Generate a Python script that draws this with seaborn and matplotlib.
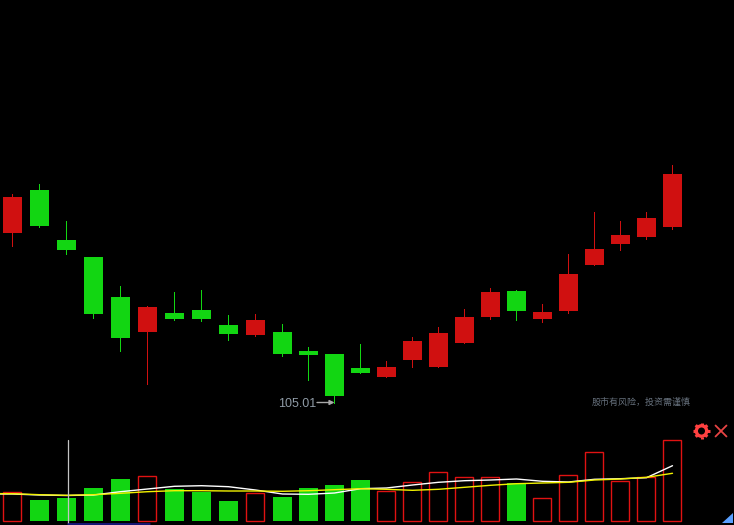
import numpy as np
import pandas as pd
import matplotlib
matplotlib.use('Agg')
import matplotlib.pyplot as plt
import seaborn as sns

# candles, oldest first
opens = [113.49, 115.64, 113.14, 112.29, 110.29, 108.54, 109.49, 109.64, 108.89, 108.39, 108.54, 107.59, 107.44,
         106.74, 106.29, 107.14, 106.79, 107.99, 109.29, 110.59, 109.19, 109.59, 111.89, 112.94, 113.29, 113.79]
closes = [115.29, 113.84, 112.64, 109.44, 108.24, 109.79, 109.19, 109.19, 108.44, 109.14, 107.44, 107.39, 105.34,
          106.49, 106.79, 108.09, 108.49, 109.29, 110.54, 109.59, 109.54, 111.44, 112.69, 113.39, 114.24, 116.44]
highs = [115.44, 115.94, 114.09, 112.29, 110.84, 109.84, 110.54, 110.64, 109.39, 109.44, 108.94, 107.79, 107.44,
         107.94, 107.09, 108.29, 108.79, 109.69, 110.74, 110.64, 109.94, 112.44, 114.54, 114.09, 114.54, 116.89]
lows = [112.85, 113.80, 112.44, 109.25, 107.58, 105.94, 109.14, 109.08, 108.14, 108.34, 107.34, 106.14, 105.01,
        106.49, 106.29, 106.79, 106.79, 107.99, 109.19, 109.14, 109.04, 109.49, 111.89, 112.64, 113.19, 113.69]
volumes = [290, 210, 230, 330, 420, 450, 320, 290, 200, 280, 240, 330, 360,
           410, 300, 387, 487, 437, 437, 377, 227, 457, 687, 397, 437, 807]
# averages start one session before the first candle
ma5 = [270, 270, 260, 255, 260, 293, 320, 347, 353, 343, 310, 270, 267, 280,
       323, 330, 360, 387, 403, 410, 420, 397, 390, 417, 423, 433, 553]
ma10 = [275, 273, 263, 257, 263, 277, 293, 303, 303, 300, 300, 297, 303, 313,
        323, 317, 307, 317, 337, 357, 373, 380, 387, 410, 420, 437, 477]
low_label = '105.01'
risk_note = '股市有风险\uff0c投资需谨慎'

RED = '#d01010'
GREEN = '#12d612'

def slot_x(i):
    # the app snaps candles to whole pixels: 27px steps first, 26px after slot 10
    i = np.asarray(i)
    return np.where(i <= 10, 12.5 + 27 * i, 282.5 + 26 * (i - 10))

sns.set_theme(style='dark', rc={'figure.facecolor': 'black', 'axes.facecolor': 'black'})
plt.rcParams['font.family'] = ['Liberation Sans', 'Noto Sans CJK SC', 'DejaVu Sans']

W, H = 734, 525
fig = plt.figure(figsize=(W / 100, H / 100), dpi=100)
ax_price = fig.add_axes([0, (H - 425) / H, 1, 425 / H])
ax_vol = fig.add_axes([0, (H - 523) / H, 1, 93 / H])
overlay = fig.add_axes([0, 0, 1, 1])
overlay.patch.set_alpha(0)

df = pd.DataFrame({'open': opens, 'close': closes, 'high': highs, 'low': lows, 'volume': volumes})
df['x'] = slot_x(np.arange(len(df)))
df['up'] = df['close'] > df['open']
df['color'] = df['up'].map({True: RED, False: GREEN})
# half pixel nudge so thin strokes land on the same column as the reference
df['x_thin'] = df['x'] - 0.6

# candles
ax_price.vlines(df['x_thin'], df['low'], df['high'], colors=df['color'], linewidth=0.72, antialiased=False)
ax_price.bar(df['x'], (df['close'] - df['open']).abs(), bottom=df[['open', 'close']].min(axis=1),
             width=19, color=df['color'], linewidth=0, antialiased=False)
ax_price.set_xlim(0, W)
ax_price.set_ylim(103.885, 125.135)

# volume: solid for down days, hollow for up days
sns.barplot(data=df[~df['up']], x='x', y='volume', native_scale=True, width=19 / 26,
            color=GREEN, saturation=1, linewidth=0, ax=ax_vol)
sns.barplot(data=df[df['up']], x='x_thin', y='volume', native_scale=True, width=18 / 26,
            color='#e01212', saturation=1, fill=False, linewidth=1.0, ax=ax_vol)

ma_x = slot_x(np.arange(-1, len(df)))
sns.lineplot(x=ma_x, y=ma5, color='white', linewidth=1.0, ax=ax_vol)
sns.lineplot(x=ma_x, y=ma10, color='#f2f200', linewidth=1.0, ax=ax_vol)
ax_vol.set_xlim(0, W)
ax_vol.set_ylim(-20, 910)

for ax in (ax_price, ax_vol, overlay):
    ax.axis('off')

# low marker
low_i = int(np.argmin(lows))
ax_price.annotate('', xy=(df['x'][low_i], lows[low_i]), xytext=(317, lows[low_i]),
                  arrowprops=dict(arrowstyle='-|>', color='#a8a8a8', lw=1, mutation_scale=7,
                                  shrinkA=0, shrinkB=0))
overlay.set_xlim(0, W)
overlay.set_ylim(H, 0)
overlay.text(316, 404, low_label, color='#8f9ba6', fontsize=9, ha='right', va='center')
overlay.text(691, 402, risk_note, color='#66707c', fontsize=6.5, ha='right', va='center',
             family=['Noto Sans CJK SC', 'DejaVu Sans'])

# crosshair and the widgets in the corner
overlay.plot([68, 68], [440, 523], color='#c4c4c4', linewidth=0.9)
overlay.plot([68, 150], [523.5, 523.5], color='#1c1c96', linewidth=1.1)

# gear: thick ring plus eight teeth
gear_x, gear_y = 701.5, 431
overlay.add_patch(plt.Circle((gear_x, gear_y), 5.2, fill=False, edgecolor='#ff4040', linewidth=2.4))
for a in np.arange(8) * np.pi / 4:
    overlay.plot([gear_x + 5.5 * np.cos(a), gear_x + 8.2 * np.cos(a)],
                 [gear_y + 5.5 * np.sin(a), gear_y + 8.2 * np.sin(a)],
                 color='#ff4040', linewidth=2.2, solid_capstyle='butt')
overlay.plot([715.5, 726.5], [425.5, 436.5], color='#e84444', linewidth=1.3)
overlay.plot([715.5, 726.5], [436.5, 425.5], color='#e84444', linewidth=1.3)
overlay.fill([722, 732.5, 732.5], [522.5, 522.5, 513], color='#5aa0ff', linewidth=0)

fig.savefig('out.png', dpi=100, facecolor='black')
